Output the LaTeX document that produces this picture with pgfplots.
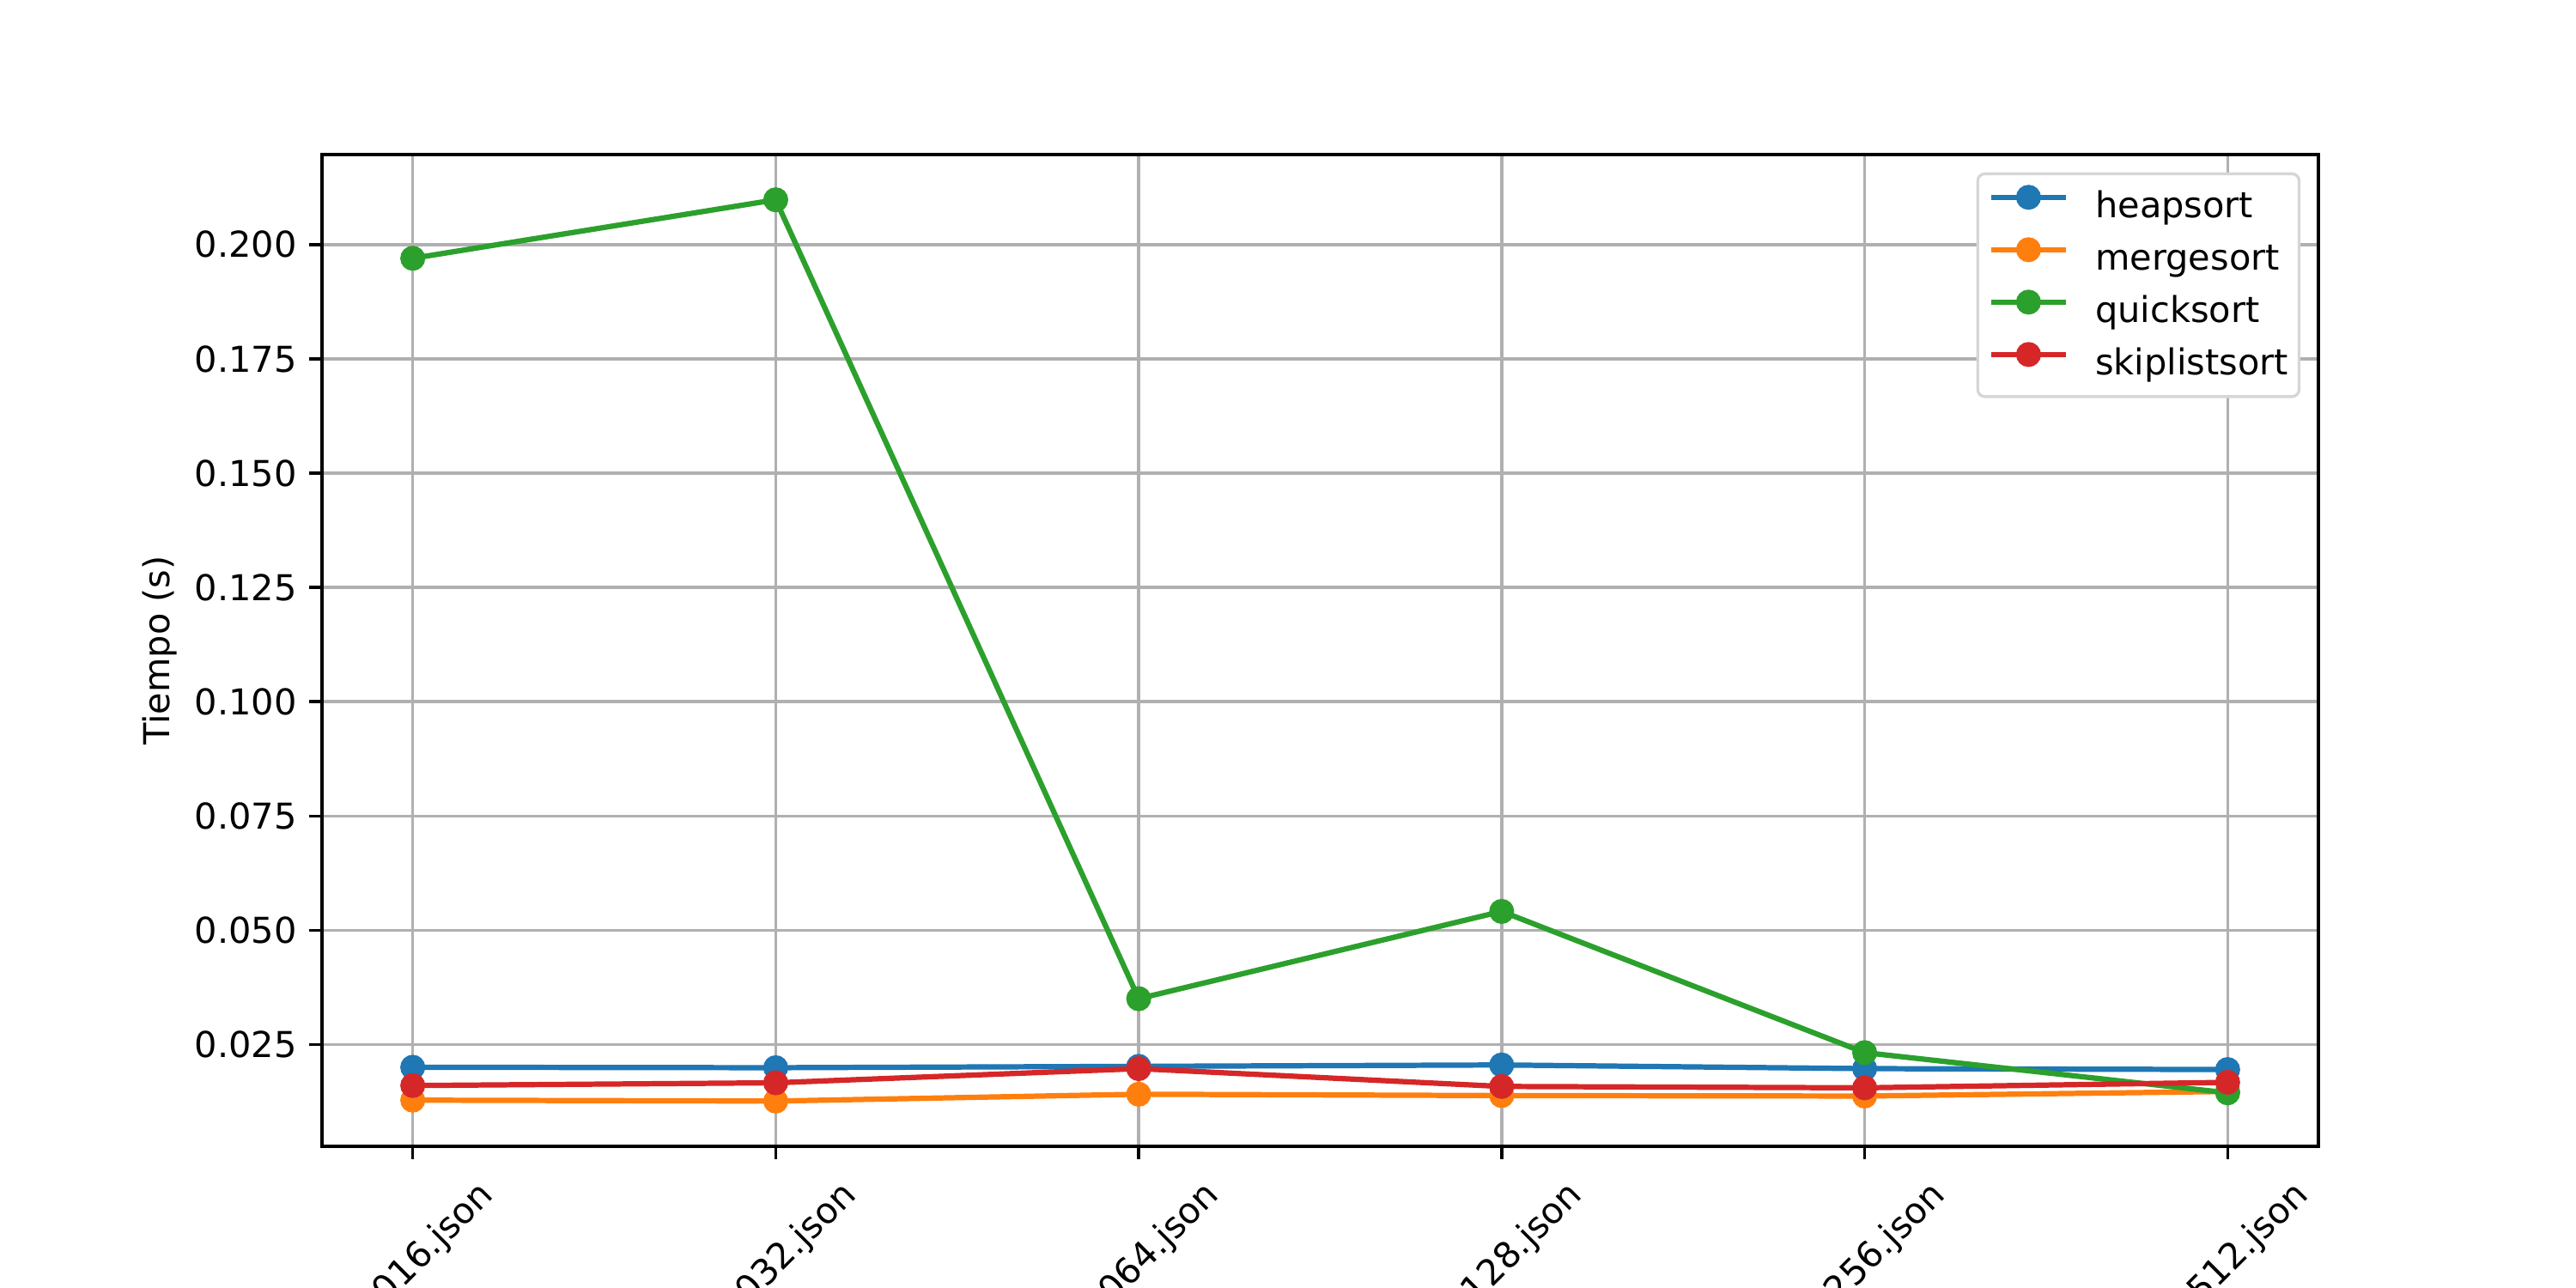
\documentclass[border=0pt]{standalone}
\usepackage{fontspec}
\setmainfont{DejaVu Sans}
\usepackage{pgfplots}
\pgfplotsset{compat=1.18}
\definecolor{c0}{HTML}{1F77B4}
\definecolor{c1}{HTML}{FF7F0E}
\definecolor{c2}{HTML}{2CA02C}
\definecolor{c3}{HTML}{D62728}
\definecolor{gridgray}{HTML}{B0B0B0}
\begin{document}
\begin{tikzpicture}
\begin{axis}[
    at={(0,0)}, anchor=south west,
    scale only axis, width=7.75in, height=3.85in,
    xmin=-0.25, xmax=5.25,
    ymin=0.0027, ymax=0.2197,
    xtick={0,1,2,3,4,5},
    xticklabels={016.json,032.json,064.json,128.json,256.json,512.json},
    ytick={0.025,0.05,0.075,0.1,0.125,0.15,0.175,0.2},
    scaled y ticks=false,
    yticklabel style={/pgf/number format/fixed, /pgf/number format/fixed zerofill, /pgf/number format/precision=3},
    /pgf/number format/assume math mode=true,
    xticklabel style={inner sep=0pt, anchor=north east, xshift=17.6pt, yshift=-5pt, rotate=45},
    xtick pos=bottom, ytick pos=left,
    tick align=outside, major tick length=3.5pt,
    tick style={black, line width=0.8pt},
    axis line style={line width=0.8pt},
    grid=major,
    major grid style={color=gridgray, line width=0.8pt},
    ylabel={Tiempo (s)},
    ylabel style={at={([xshift=-45.6pt]axis description cs:0,0.5)}, anchor=center, inner sep=0pt},
    every axis plot/.append style={line width=1.5pt, mark=*, mark size=3pt, mark options={line width=1pt}},
    legend cell align=left,
    legend image code/.code={\draw[mark repeat=2, mark phase=2, yshift=3.2pt] plot coordinates {(0pt,0pt) (10.5pt,0pt) (21pt,0pt)};},
    legend style={at={(1,1)}, anchor=north east, xshift=-5pt, yshift=-5pt,
        draw=white!84!black, line width=0.8pt, rounded corners=2pt, fill=white,
        inner xsep=3pt, inner ysep=3.6pt, row sep=3.5pt,
        nodes={inner sep=0pt, text height=7.6pt, text depth=2.4pt},
        /tikz/every odd column/.append style={column sep=7.5pt}},
]
\addplot[color=c0] coordinates {
(0,0.0200) (1,0.0199) (2,0.0202) (3,0.0205) (4,0.0197) (5,0.0195)
};
\addlegendentry{heapsort}
\addplot[color=c1] coordinates {
(0,0.0128) (1,0.0126) (2,0.0141) (3,0.0138) (4,0.0137) (5,0.0147)
};
\addlegendentry{mergesort}
\addplot[color=c2] coordinates {
(0,0.1970) (1,0.2098) (2,0.0350) (3,0.0541) (4,0.0232) (5,0.0144)
};
\addlegendentry{quicksort}
\addplot[color=c3] coordinates {
(0,0.0160) (1,0.0166) (2,0.0197) (3,0.0158) (4,0.0155) (5,0.0167)
};
\addlegendentry{skiplistsort}
\end{axis}
\pgfresetboundingbox
\useasboundingbox (-1.25in,-0.55in) rectangle (8.75in,4.45in);
\end{tikzpicture}
\end{document}
